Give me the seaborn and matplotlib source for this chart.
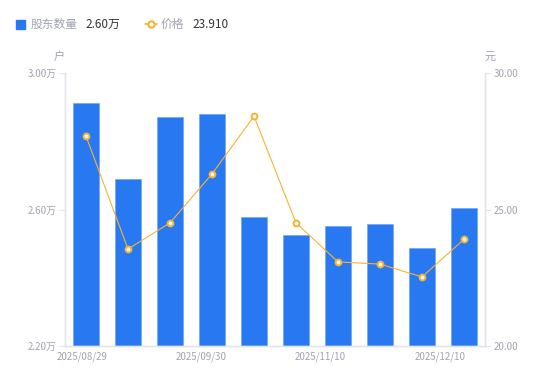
import numpy as np
import pandas as pd
import matplotlib
import matplotlib.pyplot as plt
import seaborn as sns
from matplotlib.lines import Line2D
from matplotlib.patches import Rectangle

dates = ["2025/08/29", "2025/09/10", "2025/09/19", "2025/09/30", "2025/10/10",
         "2025/10/20", "2025/11/10", "2025/11/20", "2025/11/28", "2025/12/10"]
holders = [2.912, 2.689, 2.871, 2.880, 2.578, 2.525, 2.551, 2.557, 2.487, 2.604]  # 万户
price = [27.69, 23.55, 24.51, 26.30, 28.42, 24.51, 23.08, 23.00, 22.53, 23.91]
tick_dates = ["2025/08/29", "2025/09/30", "2025/11/10", "2025/12/10"]

BLUE = "#2878F2"
ORANGE = "#F7B232"
GRAY = "#A0A3B0"
DARK = "#333333"
AXIS = "#E3E5EA"

sns.set_style("white")
plt.rcParams['font.family'] = ['Noto Sans CJK SC', 'DejaVu Sans']

df = pd.DataFrame({"date": dates, "holders": holders, "price": price})
df["pos"] = np.arange(len(df))

fig = plt.figure(figsize=(5.5, 3.81), dpi=100)
ax = fig.add_axes([65 / 550, 1 - 346 / 381, 420 / 550, 273 / 381])

sns.barplot(data=df, x="date", y="holders", color=BLUE, width=0.6,
            saturation=1, ax=ax, order=dates, edgecolor="#6FA5F7", linewidth=0.5)
ax.set_ylim(2.2, 3.0)
ax.set_xlim(-0.5, len(dates) - 0.5)
ax.set_yticks([2.2, 2.6, 3.0])
ax.set_yticklabels([f"{v:.2f}万" for v in [2.2, 2.6, 3.0]])
ax.set_xlabel("")
ax.set_ylabel("")

ax2 = ax.twinx()
sns.lineplot(data=df, x="pos", y="price", color=ORANGE, lw=0.8, ax=ax2,
             marker="o", markersize=4.2, markerfacecolor="white",
             markeredgecolor=ORANGE, markeredgewidth=1.4)
ax2.set_ylim(20, 30)
ax2.set_yticks([20, 25, 30])
ax2.set_yticklabels([f"{v:.2f}" for v in [20, 25, 30]])
ax2.set_xlabel("")
ax2.set_ylabel("")

# x labels spread evenly under the plot
ax.set_xticks(np.linspace(-0.1, 8.43, len(tick_dates)))
ax.set_xticklabels(tick_dates)

for a in (ax, ax2):
    for s in a.spines.values():
        s.set_color(AXIS)
        s.set_linewidth(1)
    a.spines["top"].set_visible(False)
ax.tick_params(axis="x", length=0, pad=4, labelsize=7, labelcolor=GRAY)
ax.tick_params(axis="y", length=4, color=AXIS, pad=2, labelsize=7, labelcolor=GRAY, left=True)
ax2.tick_params(axis="y", length=4, color=AXIS, pad=2, labelsize=7, labelcolor=GRAY, right=True)

fig.text(59 / 550, 1 - 57 / 381, "户", color=GRAY, fontsize=8, ha="center", va="center")
fig.text(490 / 550, 1 - 57 / 381, "元", color=GRAY, fontsize=8, ha="center", va="center")

# legend
fig.add_artist(Rectangle((16 / 550, 1 - 29 / 381), 9 / 550, 9 / 381,
                         transform=fig.transFigure, color=BLUE))
fig.text(31 / 550, 1 - 24 / 381, "股东数量", color=GRAY, fontsize=8.5, va="center")
fig.text(85 / 550, 1 - 24 / 381, f"{holders[-1]:.2f}万", color=DARK, fontsize=8.5, va="center")
fig.add_artist(Line2D([145 / 550, 157 / 550], [1 - 24 / 381] * 2, transform=fig.transFigure,
                      color=ORANGE, lw=1.2))
fig.add_artist(Line2D([151 / 550], [1 - 24 / 381], transform=fig.transFigure, marker="o",
                      markersize=4.5, markerfacecolor="white", markeredgecolor=ORANGE,
                      markeredgewidth=1.5))
fig.text(161 / 550, 1 - 24 / 381, "价格", color=GRAY, fontsize=8.5, va="center")
fig.text(192 / 550, 1 - 24 / 381, f"{price[-1]:.3f}", color=DARK, fontsize=8.5, va="center")

plt.savefig("out.png", dpi=100)
